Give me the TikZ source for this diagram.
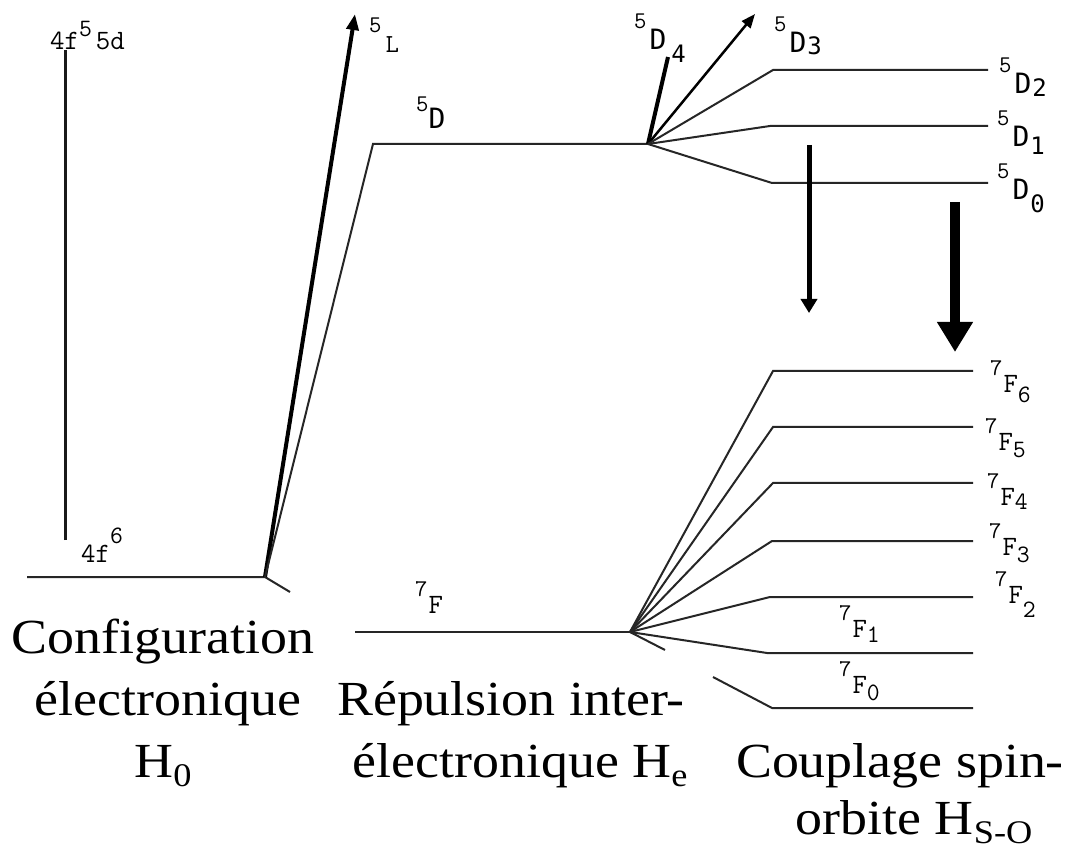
\documentclass[tikz,border=0pt]{standalone}
\usepackage{fontspec}
\usetikzlibrary{arrows.meta}
\setmainfont{Liberation Serif}
\newfontfamily\bigser[FakeStretch=1.1]{Liberation Serif}
\newfontfamily\dsans{DejaVu Sans Mono}
\newcommand\cour{\ttfamily\addfontfeatures{FakeBold=1.5}}
\newcommand\bigtxt{\bigser\fontsize{49}{60}\selectfont}
\newcommand\sbx[1]{\raisebox{-0.2em}{\fontsize{33}{33}\selectfont #1}}
% 7F_J style label: #1 letter, #2 subscript, #3 drop
\newcommand\fterm[3]{{\cour\fontsize{24}{24}\selectfont\raisebox{17pt}{7}\kern1pt\fontsize{28}{28}\selectfont #1\kern0pt\raisebox{-#3pt}{\fontsize{25}{25}\selectfont #2}}}
% 5D_J style label: #1 subscript, #2 extra kern, #3 drop
\newcommand\dterm[3]{{\cour\fontsize{24}{24}\selectfont\raisebox{21pt}{5}}\kern3pt{\dsans\fontsize{28}{28}\selectfont D\kern#2pt\raisebox{-#3pt}{\fontsize{24}{24}\selectfont #1}}}
\tikzset{
  lvl/.style={line width=2pt, draw=black!85},
  bigl/.style={anchor=base, inner sep=0pt, font=\bigtxt},
  sml/.style={anchor=base west, inner sep=0pt},
}
\begin{document}
\begin{tikzpicture}[x=1pt,y=-1pt]
\path[use as bounding box, fill=white] (0,0) rectangle (1072,850);
% coordinates
\coordinate (g0) at (27,577);
\coordinate (gs) at (265,577);
\coordinate (gt) at (290,592);
\coordinate (v1) at (65,540);
\coordinate (v2) at (65,50);
\coordinate (sL) at (355,14);
\coordinate (dA) at (373,144);
\coordinate (dS) at (648,144);
\coordinate (d4) at (668,57);
\coordinate (d3) at (755,14);
\coordinate (d2a) at (773,70);  \coordinate (d2b) at (988,70);
\coordinate (d1a) at (770,126); \coordinate (d1b) at (988,126);
\coordinate (d0a) at (772,183); \coordinate (d0b) at (988,183);
\coordinate (aT1) at (809,145); \coordinate (aB1) at (809,313);
\coordinate (aT2) at (955,202); \coordinate (aB2) at (955,352);
\coordinate (fA) at (355,632);
\coordinate (fS) at (630,632);
\coordinate (f6a) at (773,371); \coordinate (f6b) at (973,371);
\coordinate (f5a) at (773,427); \coordinate (f5b) at (973,427);
\coordinate (f4a) at (773,483); \coordinate (f4b) at (973,483);
\coordinate (f3a) at (772,541); \coordinate (f3b) at (973,541);
\coordinate (f2a) at (770,597); \coordinate (f2b) at (973,597);
\coordinate (f1a) at (767,653); \coordinate (f1b) at (973,653);
\coordinate (f0s) at (665,650);
\coordinate (f0c) at (713,677);
\coordinate (f0a) at (772,708); \coordinate (f0b) at (973,708);

% configuration
\draw[lvl] (g0) -- (gs) -- (gt);
\draw[line width=3pt, draw=black!90] (v1) -- (v2);
\draw[line width=4pt, -{Triangle[length=16pt,width=12pt]}] (gs) -- (sL);
% 5D
\draw[lvl] (gs) -- (dA) -- (dS);
\draw[line width=4pt] (dS) -- (d4);
\draw[line width=2.5pt, -{Triangle[length=14pt,width=11pt]}] (dS) -- (d3);
\draw[lvl] (dS) -- (d2a) -- (d2b);
\draw[lvl] (dS) -- (d1a) -- (d1b);
\draw[lvl] (dS) -- (d0a) -- (d0b);
% emission arrows
\draw[line width=5pt, -{Triangle[length=14pt,width=16pt]}] (aT1) -- (aB1);
\draw[line width=10pt, -{Triangle[length=30pt,width=34pt]}] (aT2) -- (aB2);
% 7F
\draw[lvl] (fA) -- (fS);
\draw[lvl] (fS) -- (f6a) -- (f6b);
\draw[lvl] (fS) -- (f5a) -- (f5b);
\draw[lvl] (fS) -- (f4a) -- (f4b);
\draw[lvl] (fS) -- (f3a) -- (f3b);
\draw[lvl] (fS) -- (f2a) -- (f2b);
\draw[lvl] (fS) -- (f1a) -- (f1b);
\draw[lvl] (fS) -- (f0s);
\draw[lvl] (f0c) -- (f0a) -- (f0b);

% small labels
\node[sml] (l4f5) at (50,50) {\cour\fontsize{28}{28}\selectfont 4f\raisebox{13pt}{\fontsize{25}{25}\selectfont 5}\kern4pt 5d};
\node[sml] (l4f6) at (81,562) {\cour\fontsize{28}{28}\selectfont 4f\raisebox{19pt}{\fontsize{25}{25}\selectfont 6}};
\node[sml] (lL) at (369,53) {{\cour\fontsize{24}{24}\selectfont\raisebox{20pt}{5}\kern4pt\fontsize{26}{26}\selectfont L}};
\node[sml] (lD) at (416,129) {{\cour\fontsize{24}{24}\selectfont\raisebox{17pt}{5}}{\dsans\fontsize{28}{28}\selectfont D}};
\node[sml] (lD4) at (634,50) {\dterm{4}{5}{13}};
\node[sml] (lD3) at (774,53) {\dterm{3}{1}{2}};
\node[sml] (lD2) at (999,94) {\dterm{2}{1}{3}};
\node[sml] (lD1) at (997,147) {\dterm{1}{1}{8}};
\node[sml] (lD0) at (997,200) {\dterm{0}{1}{13}};
\node[sml] (lF) at (415,613) {\fterm{F}{}{0}};
\node[sml] (lF6) at (990,393) {\fterm{F}{6}{10}};
\node[sml] (lF5) at (985,450) {\fterm{F}{5}{8}};
\node[sml] (lF4) at (987,505) {\fterm{F}{4}{5}};
\node[sml] (lF3) at (989,555) {\fterm{F}{3}{7}};
\node[sml] (lF2) at (995,603) {\fterm{F}{2}{14}};
\node[sml] (lF1) at (839,637) {\fterm{F}{1}{5}};
\node[sml] (lF0) at (839,693) {\fterm{F}{0}{7}};

% big labels
\node[bigl] (c1) at (163,653) {Configuration};
\node[bigl] (c2) at (168,715) {électronique};
\node[bigl] (c3) at (163,777) {H\sbx{0}};
\node[bigl] (r1) at (511,715) {Répulsion inter-};
\node[bigl] (r2) at (520,777) {électronique H\sbx{e}};
\node[bigl] (s1) at (900,777) {Couplage spin-};
\node[bigl] (s2) at (914,834) {orbite H\sbx{S-O}};
\end{tikzpicture}
\end{document}
